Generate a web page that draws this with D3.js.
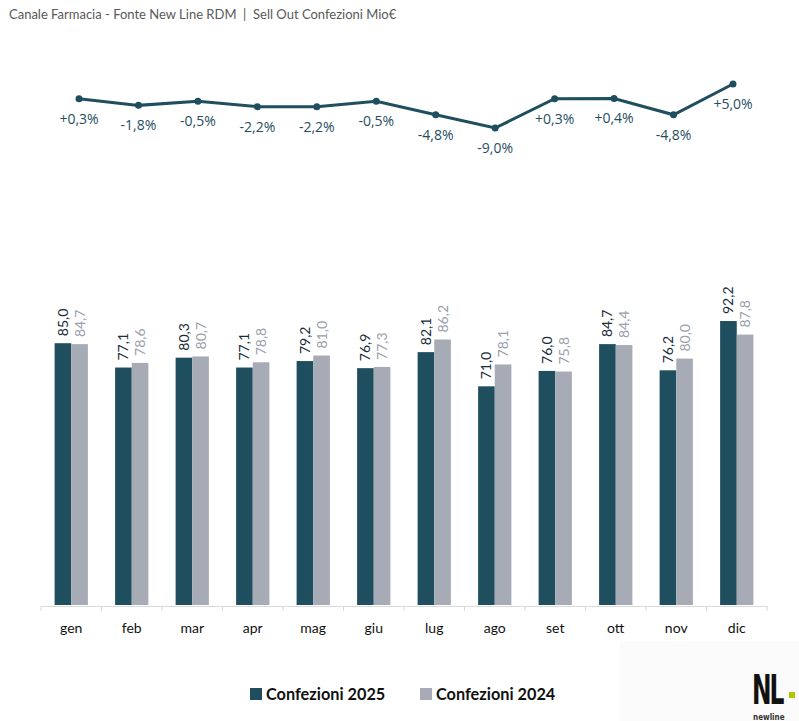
<!DOCTYPE html>
<html>
<head>
<meta charset="utf-8">
<script src="https://cdn.jsdelivr.net/npm/d3@7"></script>
<style>
  body { margin: 0; background: #fff; }
  svg { display: block; }
</style>
</head>
<body>
<div id="chart"></div>
<script>
var months = ['gen', 'feb', 'mar', 'apr', 'mag', 'giu', 'lug', 'ago', 'set', 'ott', 'nov', 'dic']
var conf2025 = [85.0, 77.1, 80.3, 77.1, 79.2, 76.9, 82.1, 71.0, 76.0, 84.7, 76.2, 92.2]
var conf2024 = [84.7, 78.6, 80.7, 78.8, 81.0, 77.3, 86.2, 78.1, 75.8, 84.4, 80.0, 87.8]
var delta = [0.3, -1.8, -0.5, -2.2, -2.2, -0.5, -4.8, -9.0, 0.3, 0.4, -4.8, 5.0]
var series = ['Confezioni 2025', 'Confezioni 2024']

var width = 799, height = 721
var dark = '#1f4e5f', grey = '#a6abb6'
var fmt = function (v) { return v.toFixed(1).replace('.', ',') }
var fmtPct = function (v) { return (v > 0 ? '+' : '') + v.toFixed(1).replace('.', ',') + '%' }

var svg = d3.select('#chart').append('svg')
    .attr('width', width)
    .attr('height', height)
    .style('font-family', 'Lato, "Open Sans", sans-serif')

// title
svg.append('text')
    .attr('x', 9).attr('y', 19)
    .style('font-size', '13px')
    .style('fill', '#595959')
    .style('white-space', 'pre')
    .text('Canale Farmacia - Fonte New Line RDM  |  Sell Out Confezioni Mio€')

// logo area
svg.append('rect')
    .attr('x', 620).attr('y', 641).attr('width', 179).attr('height', 80)
    .style('fill', '#fbfbfb')

// ---- bars ----
var x = d3.scaleBand().domain(months).range([41, 767]).paddingInner(0.45).paddingOuter(0.225)
var x1 = d3.scaleBand().domain(series).range([0, x.bandwidth()])
var y = d3.scaleLinear().domain([0, 100]).range([605, 297])

var groups = svg.append('g').selectAll('g')
    .data(months)
    .enter().append('g')
    .attr('transform', function (d) { return 'translate(' + x(d) + ',0)' })

groups.append('rect')
    .attr('x', x1(series[0]))
    .attr('width', x1.bandwidth())
    .attr('y', function (d, i) { return y(conf2025[i]) })
    .attr('height', function (d, i) { return y(0) - y(conf2025[i]) })
    .style('fill', dark)

groups.append('rect')
    .attr('x', x1(series[1]))
    .attr('width', x1.bandwidth())
    .attr('y', function (d, i) { return y(conf2024[i]) })
    .attr('height', function (d, i) { return y(0) - y(conf2024[i]) })
    .style('fill', grey)

groups.append('text')
    .attr('transform', function (d, i) {
        return 'translate(' + (x1(series[0]) + x1.bandwidth() / 2 + 5) + ',' + (y(conf2025[i]) - 7) + ') rotate(-90)'
    })
    .style('font-size', '14px')
    .style('fill', '#1a2b38')
    .text(function (d, i) { return fmt(conf2025[i]) })

groups.append('text')
    .attr('transform', function (d, i) {
        return 'translate(' + (x1(series[1]) + x1.bandwidth() / 2 + 5) + ',' + (y(conf2024[i]) - 7) + ') rotate(-90)'
    })
    .style('font-size', '14px')
    .style('fill', '#9aa0ad')
    .text(function (d, i) { return fmt(conf2024[i]) })

// x axis
var axis = svg.append('g')
    .attr('transform', 'translate(0,606)')
    .call(d3.axisBottom(x).tickSize(0).tickPadding(0).tickFormat(''))
axis.select('.domain').attr('stroke', '#d9d9d9')
var edges = d3.range(months.length + 1).map(function (i) { return 41 + i * x.step() })
axis.selectAll('.edge').data(edges).enter().append('line')
    .attr('x1', function (d) { return d }).attr('x2', function (d) { return d })
    .attr('y1', 0).attr('y2', 5)
    .attr('stroke', '#d9d9d9')
svg.append('g').selectAll('text')
    .data(months).enter().append('text')
    .attr('x', function (d) { return x(d) + x.bandwidth() / 2 })
    .attr('y', 633)
    .attr('text-anchor', 'middle')
    .style('font-size', '14px')
    .style('fill', '#111')
    .text(function (d) { return d })

// ---- line of deltas ----
var xl = d3.scalePoint().domain(months).range([79, 733])
var yl = d3.scaleLinear().domain([-9, 5]).range([128, 84])

svg.append('path')
    .datum(delta)
    .attr('d', d3.line()
        .x(function (d, i) { return xl(months[i]) })
        .y(function (d) { return yl(d) }))
    .style('fill', 'none')
    .style('stroke', dark)
    .style('stroke-width', 3)

svg.append('g').selectAll('circle')
    .data(delta).enter().append('circle')
    .attr('cx', function (d, i) { return xl(months[i]) })
    .attr('cy', function (d) { return yl(d) })
    .attr('r', 3.5)
    .style('fill', dark)

svg.append('g').selectAll('text')
    .data(delta).enter().append('text')
    .attr('x', function (d, i) { return xl(months[i]) })
    .attr('y', function (d) { return yl(d) + 25 })
    .attr('text-anchor', 'middle')
    .style('font-family', '"Open Sans", sans-serif')
    .style('font-size', '14px')
    .style('fill', '#1f4e5f')
    .text(function (d) { return fmtPct(d) })

// ---- legend ----
var legend = svg.append('g')
var legX = [250, 420]
var legColors = [dark, grey]
legend.selectAll('rect').data(series).enter().append('rect')
    .attr('x', function (d, i) { return legX[i] })
    .attr('y', 688).attr('width', 12).attr('height', 12)
    .style('fill', function (d, i) { return legColors[i] })
legend.selectAll('text').data(series).enter().append('text')
    .attr('x', function (d, i) { return legX[i] + 16 })
    .attr('y', 700)
    .style('font-size', '16.3px')
    .style('font-weight', 'bold')
    .style('fill', '#111')
    .text(function (d) { return d })

// logo
svg.append('text')
    .attr('transform', 'translate(752,704) scale(1,1.55)')
    .style('font-family', '"DejaVu Sans Condensed", sans-serif')
    .style('font-weight', 'bold')
    .style('font-size', '26px')
    .style('letter-spacing', '-2px')
    .style('fill', '#111')
    .text('NL')
svg.append('rect')
    .attr('x', 789).attr('y', 692).attr('width', 6).attr('height', 6)
    .style('fill', '#b5c400')
svg.append('text')
    .attr('x', 753).attr('y', 720)
    .style('font-family', '"DejaVu Sans Condensed", sans-serif')
    .style('font-weight', 'bold')
    .style('font-size', '8px')
    .style('fill', '#333')
    .text('newline')
</script>
</body>
</html>
